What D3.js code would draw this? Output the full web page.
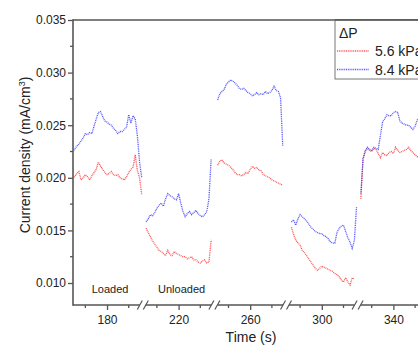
<!DOCTYPE html>
<html>
<head>
<meta charset="utf-8">
<script src="https://cdn.jsdelivr.net/npm/d3@7"></script>
<style>
  body { margin: 0; background: #fff; }
  text { font-family: "Liberation Sans", Arial, sans-serif; fill: #222; }
</style>
</head>
<body>
<svg id="chart" width="418" height="347"></svg>
<script>
// broken time axis: one segment per 40 s window
const segCenters = [180, 220, 260, 300, 340];
const segDomains = [[164.3, 196.5], [203.5, 236.5], [243.5, 276.5], [283.5, 316.5], [323.5, 356.5]];
const segLabels = ["Loaded", "Unloaded"];
const yTicks = [0.010, 0.015, 0.020, 0.025, 0.030, 0.035];
const seriesNames = ["5.6 kPa", "8.4 kPa"];

// first time stamp of each segment, one sample per second
const segStart = [164, 205, 245, 286, 325];

const red1 = [0.0200, 0.0201, 0.0204, 0.0206, 0.0198, 0.0200, 0.0203, 0.0201, 0.0198, 0.0202, 0.0205,
  0.0208, 0.0215, 0.0211, 0.0208, 0.0205, 0.0203, 0.0204, 0.0206, 0.0203, 0.0202, 0.0203, 0.0200,
  0.0199, 0.0198, 0.0201, 0.0205, 0.0208, 0.0210, 0.0222, 0.0207, 0.0200, 0.0184];
const blue1 = [0.0225, 0.0227, 0.0230, 0.0232, 0.0235, 0.0238, 0.0242, 0.0241, 0.0243, 0.0242, 0.0249,
  0.0256, 0.0262, 0.0263, 0.0258, 0.0254, 0.0253, 0.0251, 0.0250, 0.0247, 0.0245, 0.0242, 0.0244,
  0.0244, 0.0246, 0.0248, 0.0260, 0.0252, 0.0259, 0.0256, 0.0240, 0.0215, 0.0200];

const red2 = [0.0152, 0.0148, 0.0144, 0.0140, 0.0137, 0.0134, 0.0131, 0.0130, 0.0128, 0.0126, 0.0131,
  0.0127, 0.0126, 0.0130, 0.0128, 0.0127, 0.0126, 0.0125, 0.0125, 0.0123, 0.0124, 0.0125, 0.0122,
  0.0122, 0.0120, 0.0119, 0.0121, 0.0122, 0.0119, 0.0120, 0.0141];
const blue2 = [0.0158, 0.0161, 0.0165, 0.0164, 0.0167, 0.0171, 0.0174, 0.0176, 0.0173, 0.0180, 0.0185,
  0.0183, 0.0182, 0.0180, 0.0179, 0.0185, 0.0176, 0.0168, 0.0163, 0.0166, 0.0168, 0.0165, 0.0167,
  0.0169, 0.0166, 0.0164, 0.0163, 0.0165, 0.0168, 0.0180, 0.0218];

const red3 = [0.0212, 0.0216, 0.0217, 0.0214, 0.0213, 0.0212, 0.0210, 0.0208, 0.0205, 0.0203, 0.0203,
  0.0202, 0.0203, 0.0205, 0.0204, 0.0208, 0.0211, 0.0209, 0.0210, 0.0207, 0.0207, 0.0203, 0.0202,
  0.0201, 0.0200, 0.0198, 0.0197, 0.0196, 0.0195, 0.0194, 0.0193];
const blue3 = [0.0274, 0.0280, 0.0282, 0.0284, 0.0289, 0.0291, 0.0293, 0.0292, 0.0290, 0.0288, 0.0285,
  0.0284, 0.0285, 0.0283, 0.0281, 0.0280, 0.0278, 0.0279, 0.0281, 0.0279, 0.0280, 0.0279, 0.0282,
  0.0280, 0.0281, 0.0283, 0.0287, 0.0283, 0.0282, 0.0276, 0.0230];

const red4 = [0.0153, 0.0146, 0.0141, 0.0138, 0.0136, 0.0131, 0.0129, 0.0126, 0.0123, 0.0120, 0.0117,
  0.0114, 0.0112, 0.0114, 0.0116, 0.0115, 0.0114, 0.0113, 0.0112, 0.0111, 0.0109, 0.0108, 0.0106,
  0.0103, 0.0101, 0.0105, 0.0101, 0.0098, 0.0105, 0.0104];
const blue4 = [0.0158, 0.0160, 0.0155, 0.0161, 0.0165, 0.0163, 0.0161, 0.0159, 0.0156, 0.0153, 0.0151,
  0.0149, 0.0148, 0.0147, 0.0147, 0.0145, 0.0144, 0.0142, 0.0139, 0.0138, 0.0138, 0.0148, 0.0152,
  0.0154, 0.0155, 0.0149, 0.0143, 0.0139, 0.0133, 0.0140, 0.0172];

const red5 = [0.0180, 0.0218, 0.0226, 0.0228, 0.0226, 0.0225, 0.0228, 0.0227, 0.0223, 0.0219, 0.0224,
  0.0222, 0.0221, 0.0224, 0.0225, 0.0223, 0.0229, 0.0226, 0.0224, 0.0225, 0.0226, 0.0227, 0.0229,
  0.0226, 0.0224, 0.0222, 0.0220, 0.0220];
const blue5 = [0.0185, 0.0218, 0.0225, 0.0229, 0.0227, 0.0226, 0.0229, 0.0228, 0.0227, 0.0240, 0.0253,
  0.0256, 0.0260, 0.0259, 0.0259, 0.0262, 0.0263, 0.0262, 0.0254, 0.0252, 0.0251, 0.0250, 0.0250,
  0.0248, 0.0246, 0.0249, 0.0255, 0.0258];

const redSegs = [red1, red2, red3, red4, red5];
const blueSegs = [blue1, blue2, blue3, blue4, blue5];

// layout
const mLeft = 73, mTop = 20, mBottom = 305, mRight = 418;
const segWidth = 71.6;
const firstEdge = 142.8;
const colors = ["#ff2a2a", "#2a2aff"];
const axisColor = "#555";

const svg = d3.select("#chart");

const y = d3.scaleLinear().domain([0.00791, 0.035]).range([mBottom, mTop]);

const xScales = segDomains.map((dom, i) => {
  const x0 = i === 0 ? mLeft : firstEdge + (i - 1) * segWidth;
  const x1 = firstEdge + i * segWidth;
  return d3.scaleLinear().domain(dom).range([x0, x1]);
});

svg.append("defs").append("clipPath").attr("id", "plot")
  .append("rect").attr("x", mLeft).attr("y", mTop)
  .attr("width", mRight - mLeft).attr("height", mBottom - mTop);

// series
const plot = svg.append("g").attr("clip-path", "url(#plot)");
[redSegs, blueSegs].forEach((segs, k) => {
  segs.forEach((vals, i) => {
    const x = xScales[i];
    const line = d3.line()
      .x((d, j) => x(segStart[i] + j))
      .y(d => y(d));
    plot.append("path")
      .datum(vals)
      .attr("d", line)
      .attr("fill", "none")
      .attr("stroke", colors[k])
      .attr("stroke-width", 1.3)
      .attr("stroke-dasharray", "1,0.8")
      .attr("stroke-opacity", 0.8);
  });
});

// y axis
const yAxis = d3.axisLeft(y).tickValues(yTicks).tickFormat(d3.format(".3f")).tickSize(5).tickSizeOuter(0);
const gy = svg.append("g").attr("transform", `translate(${mLeft},0)`).call(yAxis);
gy.select(".domain").remove();
gy.selectAll(".tick line").attr("stroke", axisColor).attr("stroke-width", 1.3);
gy.selectAll(".tick text").attr("x", -7).style("font-size", "12px")
  .style("font-family", "Liberation Sans, Arial, sans-serif").attr("fill", "#222");
const yMinor = [0.0125, 0.0175, 0.0225, 0.0275, 0.0325];
svg.append("g").selectAll("line").data(yMinor).join("line")
  .attr("x1", mLeft - 3).attr("x2", mLeft)
  .attr("y1", d => y(d)).attr("y2", d => y(d))
  .attr("stroke", axisColor).attr("stroke-width", 1.3);
svg.append("line").attr("x1", mLeft).attr("x2", mLeft).attr("y1", mTop - 0.75).attr("y2", mBottom + 0.75)
  .attr("stroke", axisColor).attr("stroke-width", 1.6);

// top frame line
svg.append("line").attr("x1", mLeft).attr("x2", mRight).attr("y1", mTop).attr("y2", mTop)
  .attr("stroke", axisColor).attr("stroke-width", 1.6);

// x axis: one axis per segment
svg.append("line").attr("x1", mLeft).attr("x2", mRight).attr("y1", mBottom).attr("y2", mBottom)
  .attr("stroke", axisColor).attr("stroke-width", 1.6);
xScales.forEach((x, i) => {
  const c = segCenters[i];
  const gx = svg.append("g").attr("transform", `translate(0,${mBottom})`)
    .call(d3.axisBottom(x).tickValues([c]).tickSize(5).tickSizeOuter(0));
  gx.select(".domain").remove();
  gx.selectAll(".tick line").attr("stroke", axisColor).attr("stroke-width", 1.3);
  gx.selectAll(".tick text").attr("y", 10).style("font-size", "12px")
    .style("font-family", "Liberation Sans, Arial, sans-serif").attr("fill", "#222");
  svg.append("g").selectAll("line").data([c - 10, c + 10]).join("line")
    .attr("x1", d => x(d)).attr("x2", d => x(d))
    .attr("y1", mBottom).attr("y2", mBottom + 3)
    .attr("stroke", axisColor).attr("stroke-width", 1.3);
});

// break marks
xScales.slice(1).forEach(x => {
  const bx = x.range()[0];
  svg.append("rect").attr("x", bx - 3).attr("y", mBottom - 2).attr("width", 6).attr("height", 4).attr("fill", "#fff");
  [-3, 3].forEach(dx => {
    svg.append("line")
      .attr("x1", bx + dx - 2.5).attr("y1", mBottom + 4.5)
      .attr("x2", bx + dx + 2.5).attr("y2", mBottom - 4.5)
      .attr("stroke", axisColor).attr("stroke-width", 1.2);
  });
});

// segment annotations
segLabels.forEach((t, i) => {
  svg.append("text").attr("x", xScales[i](segCenters[i]) + 3).attr("y", 293)
    .attr("text-anchor", "middle").style("font-size", "11px").text(t);
});

// axis titles
svg.append("text").attr("transform", "translate(30,155) rotate(-90)")
  .attr("text-anchor", "middle").style("font-size", "14px")
  .call(t => {
    t.append("tspan").text("Current density (mA/cm");
    t.append("tspan").attr("dy", -5).style("font-size", "9px").text("3");
    t.append("tspan").attr("dy", 5).text(")");
  });
svg.append("text").attr("x", 251).attr("y", 342).attr("text-anchor", "middle")
  .style("font-size", "14px").text("Time (s)");

// legend
const lg = svg.append("g");
lg.append("rect").attr("x", 335).attr("y", 20).attr("width", 100).attr("height", 59)
  .attr("fill", "#fff").attr("stroke", "#777").attr("stroke-width", 1);
lg.append("line").attr("x1", 335).attr("x2", mRight).attr("y1", mTop).attr("y2", mTop)
  .attr("stroke", axisColor).attr("stroke-width", 1.6);
lg.append("text").attr("x", 339).attr("y", 38).style("font-size", "14px").text("ΔP");
seriesNames.forEach((name, k) => {
  const ly = 51 + k * 18.5;
  lg.append("line").attr("x1", 337).attr("x2", 369).attr("y1", ly).attr("y2", ly)
    .attr("stroke", colors[k]).attr("stroke-width", 1.3)
    .attr("stroke-dasharray", "1,0.8").attr("stroke-opacity", 0.8);
  lg.append("text").attr("x", 375).attr("y", ly + 5).style("font-size", "14px").text(name);
});
</script>
</body>
</html>
